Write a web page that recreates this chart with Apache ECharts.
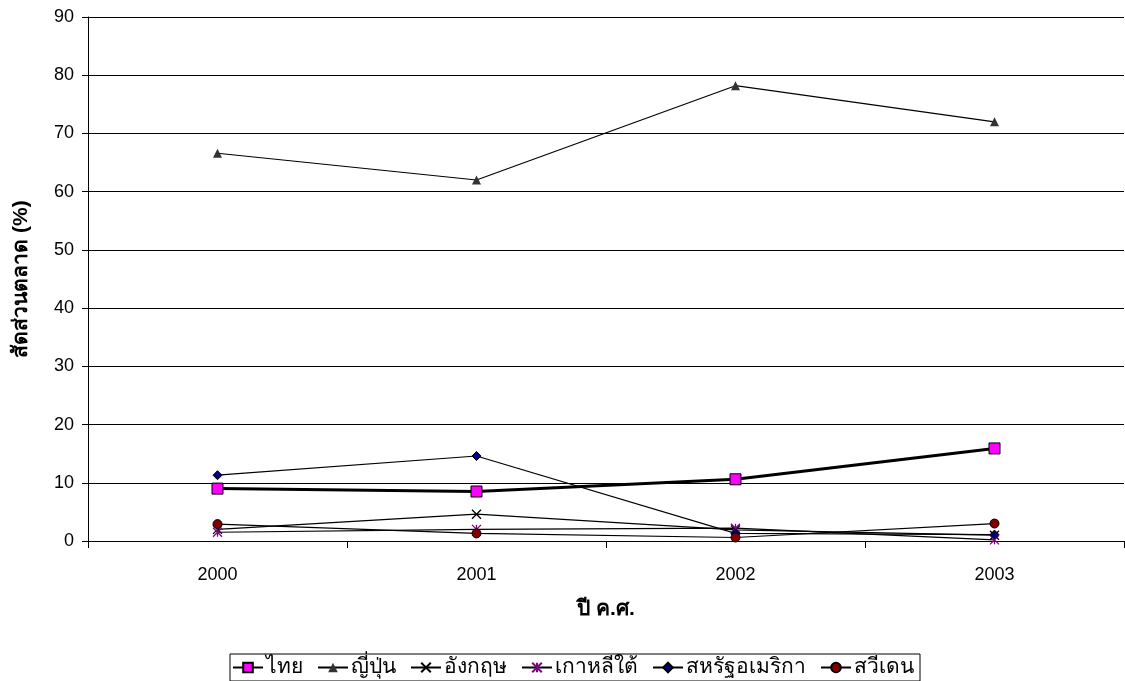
<!DOCTYPE html>
<html>
<head>
<meta charset="utf-8">
<script src="https://cdn.jsdelivr.net/npm/echarts@6/dist/echarts.min.js"></script>
<style>
  html, body { margin: 0; padding: 0; background: #fff; }
  #r-canvas { width: 1125px; height: 681px; }
</style>
</head>
<body>
<div id="r-canvas"></div>
<script>
var years = ['2000', '2001', '2002', '2003']
var thai = [9.0, 8.5, 10.6, 15.9]
var japan = [66.6, 62.0, 78.2, 72.0]
var uk = [2.0, 4.6, 1.9, 1.0]
var korea = [1.5, 2.0, 2.2, 0.2]
var usa = [11.3, 14.6, 1.3, 1.1]
var sweden = [2.9, 1.3, 0.6, 3.0]

var FONT = 'Liberation Sans, Arial, DejaVu Sans, sans-serif'

var crossPath = 'path://M0,0 L10,10 M10,0 L0,10'
var starPath = 'path://M0,0 L10,10 M10,0 L0,10 M5,0 L5,10'

var myChart = echarts.init(document.getElementById('r-canvas'))

function mk (name, data, o) {
  return {
    name: name,
    type: 'line',
    data: data,
    symbol: o.symbol,
    symbolSize: o.size,
    showAllSymbol: true,
    lineStyle: {color: '#000', width: o.lw || 1.2},
    itemStyle: {color: o.fill, borderColor: o.border, borderWidth: o.bw === undefined ? 1 : o.bw},
    emphasis: {disabled: true},
    z: o.z || 2
  }
}

var option = {
  animation: false,
  backgroundColor: '#fff',
  grid: {left: 88, right: 1, top: 17, bottom: 140, containLabel: false, outerBoundsMode: 'none'},
  xAxis: {
    type: 'category',
    data: years,
    boundaryGap: true,
    name: 'ปี ค.ศ.',
    nameLocation: 'middle',
    nameGap: 58,
    nameTextStyle: {fontFamily: FONT, fontSize: 21, fontWeight: 'bold', color: '#000'},
    axisLine: {lineStyle: {color: '#000', width: 1}},
    axisTick: {show: true, inside: false, length: 7, alignWithLabel: false, lineStyle: {color: '#000'}},
    axisLabel: {fontFamily: FONT, fontSize: 18, color: '#000', margin: 25},
    splitLine: {show: false}
  },
  yAxis: {
    type: 'value',
    min: 0,
    max: 90,
    interval: 10,
    name: 'สัดส่วนตลาด (%)',
    nameLocation: 'middle',
    nameGap: 56,
    nameRotate: 90,
    nameTextStyle: {fontFamily: FONT, fontSize: 21, fontWeight: 'bold', color: '#000'},
    axisLine: {show: true, lineStyle: {color: '#000', width: 1}},
    axisTick: {show: true, inside: false, length: 6, lineStyle: {color: '#000'}},
    axisLabel: {fontFamily: FONT, fontSize: 18, color: '#000', margin: 14},
    splitLine: {show: true, lineStyle: {color: '#000', width: 1}}
  },
  legend: {
    bottom: 0,
    left: 230,
    itemGap: 14,
    itemWidth: 30,
    itemHeight: 12,
    padding: [3, 6, 3, 2],
    borderColor: '#000',
    borderWidth: 1,
    borderRadius: 0,
    textStyle: {fontFamily: FONT, fontSize: 21, color: '#000', padding: [0, 0, 0, -2]},
    data: ['ไทย', 'ญี่ปุ่น', 'อังกฤษ', 'เกาหลีใต้', 'สหรัฐอเมริกา', 'สวีเดน']
  },
  series: [
    mk('ไทย', thai, {symbol: 'rect', size: 11, fill: '#ff00ff', border: '#000', lw: 3, z: 5}),
    mk('ญี่ปุ่น', japan, {symbol: 'triangle', size: 9, fill: '#333', border: '#333', bw: 0}),
    mk('อังกฤษ', uk, {symbol: crossPath, size: 9, fill: 'none', border: '#000', bw: 1.3}),
    mk('เกาหลีใต้', korea, {symbol: starPath, size: 9, fill: 'none', border: '#800080', bw: 1.3}),
    mk('สหรัฐอเมริกา', usa, {symbol: 'diamond', size: 9, fill: '#000080', border: '#000', bw: 1}),
    mk('สวีเดน', sweden, {symbol: 'circle', size: 9, fill: '#800000', border: '#000', bw: 1})
  ]
}

myChart.setOption(option)
</script>
</body>
</html>
